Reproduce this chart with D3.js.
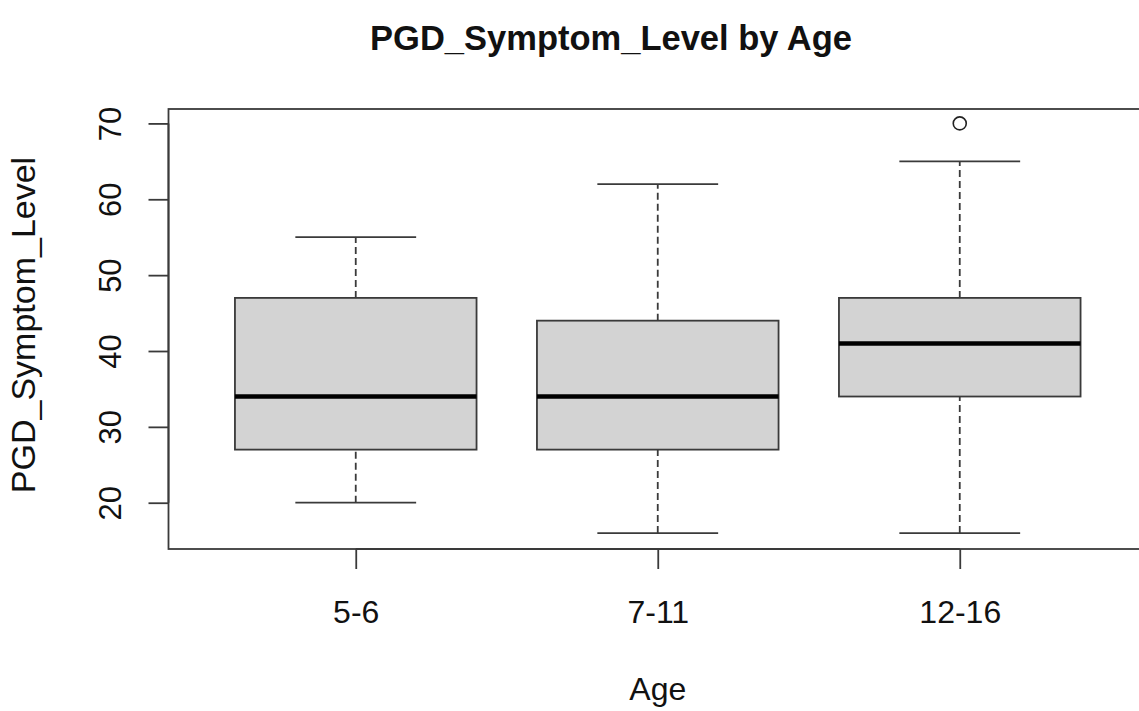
<!DOCTYPE html>
<html>
<head>
<meta charset="utf-8">
<script src="https://cdn.jsdelivr.net/npm/d3@7"></script>
<style>
  body { margin: 0; background: #fff; }
  text { font-family: "Liberation Sans", Arial, sans-serif; fill: #111; }
</style>
</head>
<body>
<div id="chart" style="width:1139px;height:711px;"></div>
<script>
const categories = ["5-6", "7-11", "12-16"];
const whisker_low = [20, 16, 16];
const q1 = [27, 27, 34];
const medians = [34, 34, 41];
const q3 = [47, 44, 47];
const whisker_high = [55, 62, 65];
const outliers = [[], [], [70]];
const y_ticks = [20, 30, 40, 50, 60, 70];

function box_plot(element_id) {
    const plot = { left: 168.5, right: 1147, top: 109, bottom: 549 };
    const svg = d3.select(`#${element_id}`)
        .append("svg")
        .attr("width", 1139)
        .attr("height", 711);

    const x = d3.scaleLinear()
        .domain([0.38, categories.length + 0.62])
        .range([plot.left, plot.right]);

    const y = d3.scaleLinear()
        .domain([13.9, 71.9])
        .range([plot.bottom, plot.top]);

    const line_color = "#3a3a3a";
    const box_half = 0.4;
    const cap_half = 0.2;

    categories.forEach((cat, i) => {
        const cx = x(i + 1);
        const g = svg.append("g");

        // whiskers
        [[whisker_low[i], q1[i]], [q3[i], whisker_high[i]]].forEach(([a, b]) => {
            g.append("line")
                .attr("x1", cx).attr("x2", cx)
                .attr("y1", y(a)).attr("y2", y(b))
                .attr("stroke", line_color)
                .attr("stroke-width", 1.8)
                .attr("stroke-dasharray", "7,4");
        });
        [whisker_low[i], whisker_high[i]].forEach(v => {
            g.append("line")
                .attr("x1", x(i + 1 - cap_half)).attr("x2", x(i + 1 + cap_half))
                .attr("y1", y(v)).attr("y2", y(v))
                .attr("stroke", line_color)
                .attr("stroke-width", 1.8);
        });

        // box
        g.append("rect")
            .attr("x", x(i + 1 - box_half))
            .attr("y", y(q3[i]))
            .attr("width", x(i + 1 + box_half) - x(i + 1 - box_half))
            .attr("height", y(q1[i]) - y(q3[i]))
            .attr("fill", "#d3d3d3")
            .attr("stroke", line_color)
            .attr("stroke-width", 1.8);

        g.append("line")
            .attr("x1", x(i + 1 - box_half)).attr("x2", x(i + 1 + box_half))
            .attr("y1", y(medians[i])).attr("y2", y(medians[i]))
            .attr("stroke", "#000")
            .attr("stroke-width", 4.5);

        outliers[i].forEach(v => {
            g.append("circle")
                .attr("cx", cx)
                .attr("cy", y(v))
                .attr("r", 6.5)
                .attr("fill", "none")
                .attr("stroke", "#222")
                .attr("stroke-width", 1.6);
        });
    });

    // frame
    svg.append("rect")
        .attr("x", plot.left)
        .attr("y", plot.top)
        .attr("width", plot.right - plot.left)
        .attr("height", plot.bottom - plot.top)
        .attr("fill", "none")
        .attr("stroke", line_color)
        .attr("stroke-width", 1.8);

    // y axis
    const y_axis = svg.append("g")
        .attr("transform", `translate(${plot.left},0)`)
        .call(d3.axisLeft(y).tickValues(y_ticks).tickSize(20).tickSizeOuter(0).tickPadding(0));
    y_axis.select(".domain")
        .attr("d", `M0,${y(y_ticks[0])}V${y(y_ticks[y_ticks.length - 1])}`)
        .attr("stroke", line_color).attr("stroke-width", 1.8);
    y_axis.selectAll(".tick line").attr("stroke", line_color).attr("stroke-width", 1.8);
    y_axis.selectAll(".tick text")
        .attr("x", 0).attr("dy", null)
        .attr("transform", "translate(-48,0) rotate(-90)")
        .attr("text-anchor", "middle")
        .attr("font-size", 31)
        .attr("font-family", "Liberation Sans, Arial, sans-serif")
        .attr("fill", "#111");

    // x axis
    const x_axis = svg.append("g")
        .attr("transform", `translate(0,${plot.bottom})`)
        .call(d3.axisBottom(x).tickValues(categories.map((c, i) => i + 1))
            .tickFormat((d, i) => categories[i]).tickSize(20).tickSizeOuter(0));
    x_axis.select(".domain")
        .attr("d", `M${x(1)},0H${x(categories.length)}`)
        .attr("stroke", line_color).attr("stroke-width", 1.8);
    x_axis.selectAll(".tick line").attr("stroke", line_color).attr("stroke-width", 1.8);
    x_axis.selectAll(".tick text")
        .attr("y", 74).attr("dy", null)
        .attr("font-size", 32)
        .attr("font-family", "Liberation Sans, Arial, sans-serif")
        .attr("fill", "#111");

    svg.append("text")
        .attr("x", 611)
        .attr("y", 50)
        .attr("text-anchor", "middle")
        .attr("font-size", 34.5)
        .attr("font-weight", "bold")
        .text("PGD_Symptom_Level by Age");

    svg.append("text")
        .attr("x", x(2))
        .attr("y", 700)
        .attr("text-anchor", "middle")
        .attr("font-size", 32)
        .text("Age");

    svg.append("text")
        .attr("transform", `translate(35,${(plot.top + plot.bottom) / 2 - 4}) rotate(-90)`)
        .attr("text-anchor", "middle")
        .attr("font-size", 34)
        .text("PGD_Symptom_Level");
}

box_plot("chart");
</script>
</body>
</html>
